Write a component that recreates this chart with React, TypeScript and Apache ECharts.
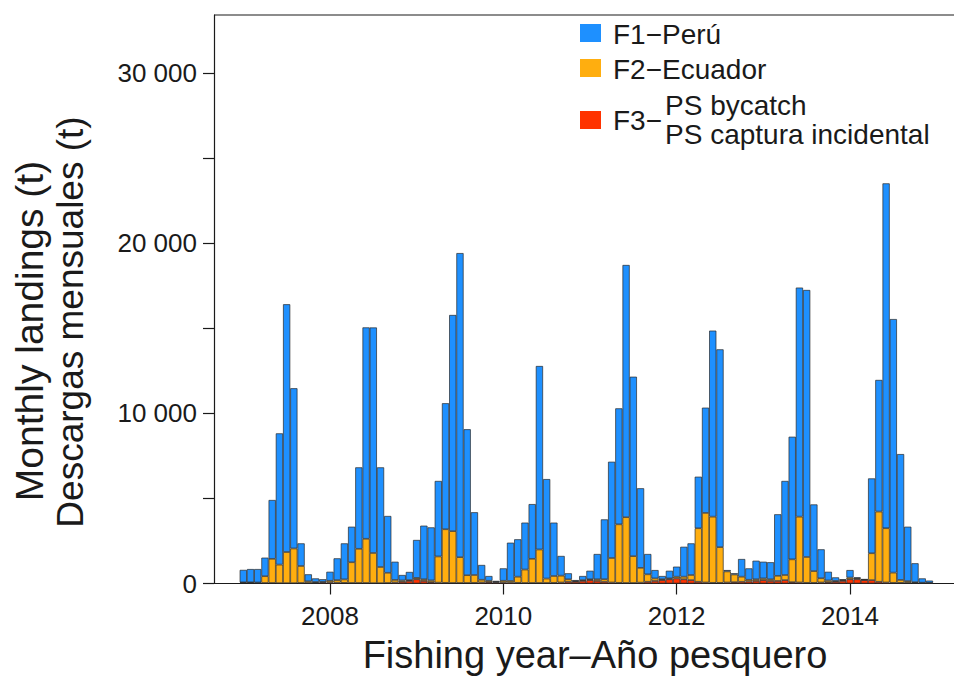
import React, { useEffect, useRef } from "react";
import * as echarts from "echarts";

// Fishing years (Jan..Dec of each year, one bar per month)
const years = [2007, 2008, 2009, 2010, 2011, 2012, 2013, 2014];

// F1 - Perú monthly landings (t)
const f1Peru = [
  730, 780, 790, 1090, 3460, 7720, 14570, 9420, 1330, 410, 210, 150,
  530, 1280, 2120, 2090, 4790, 12430, 13260, 5860, 3340, 1070, 320, 480,
  2230, 3150, 3120, 4440, 7410, 12710, 17880, 8580, 3690, 870, 280, 50,
  730, 2250, 2200, 2760, 3220, 10790, 5850, 3140, 1160, 350, 60, 240,
  500, 1485, 3520, 5660, 6820, 14830, 10550, 4680, 1195, 490, 190, 450,
  590, 1760, 1860, 3030, 6190, 10940, 11630, 80, 70, 1040, 670, 1090,
  980, 1000, 3620, 5530, 7210, 13470, 15700, 3920, 1700, 510, 210, 50,
  440, 50, 20, 4400, 7740, 20280, 14910, 7400, 3200, 1110, 250, 130,
];

// F2 - Ecuador monthly landings (t)
const f2Ecuador = [
  30, 30, 30, 400, 1420, 1090, 1830, 2040, 1000, 100, 50, 40,
  100, 150, 200, 1220, 2010, 2600, 1775, 950, 600, 150, 80, 50,
  80, 100, 100, 1540, 3150, 3050, 1520, 460, 460, 160, 80, 40,
  100, 100, 360, 790, 1420, 1970, 260, 400, 400, 150, 40, 50,
  50, 100, 150, 1440, 3440, 3870, 1580, 870, 440, 150, 50, 50,
  100, 150, 300, 3150, 4090, 3890, 2100, 650, 450, 300, 100, 100,
  100, 100, 300, 300, 1340, 3870, 1520, 690, 250, 100, 50, 50,
  100, 60, 30, 1580, 4130, 3190, 600, 170, 100, 50, 30, 20,
];

// F3 - PS bycatch monthly landings (t)
const f3Bycatch = [
  40, 40, 30, 30, 30, 20, 20, 20, 30, 30, 40, 60,
  60, 50, 40, 30, 30, 30, 20, 20, 30, 60, 100, 150,
  250, 150, 80, 50, 40, 30, 30, 30, 40, 60, 80, 60,
  60, 50, 40, 30, 30, 30, 30, 40, 60, 100, 100, 150,
  200, 150, 100, 60, 40, 30, 30, 50, 100, 150, 200, 250,
  300, 250, 200, 100, 60, 40, 40, 60, 80, 100, 120, 150,
  200, 150, 150, 200, 80, 60, 40, 40, 60, 80, 100, 150,
  250, 250, 200, 200, 100, 60, 40, 40, 40, 30, 20, 20,
];

const xTickValues = [2008, 2010, 2012, 2014];
const yTickValues = [0, 5000, 10000, 15000, 20000, 25000, 30000];
const yLabelValues = [0, 10000, 20000, 30000];

const seriesNames = ["F1\u2212Perú", "F2\u2212Ecuador", "F3\u2212PS bycatch"];
const COLORS = { f1: "#1E90FF", f2: "#FFAE0F", f3: "#FF3300" };
const FONT = '"Liberation Sans", Arial, Helvetica, sans-serif';
const INK = "#1a1a1a";

export default function App() {
  const ref = useRef<HTMLDivElement>(null);

  useEffect(() => {
    if (!ref.current) return;
    const chart = echarts.init(ref.current, null, { renderer: "svg" });
    const xs: number[] = [];
    years.forEach((y) => {
      for (let m = 0; m < 12; m++) xs.push(y + m / 12);
    });
    // value first so that the stack is applied on the landing values (y)
    const pair = (arr: number[]) => arr.map((v, i) => [v, xs[i]]);
    const fmtY = (v: number) =>
      v === 0 ? "0" : `${Math.floor(v / 1000)} ${String(v % 1000).padStart(3, "0")}`;

    const barCommon = {
      type: "bar",
      stack: "total",
      barWidth: 7.2,
      dimensions: ["landings", "month"],
      encode: { x: "month", y: "landings" },
      itemStyle: { borderColor: "#2a2a2a", borderWidth: 0.7 },
      emphasis: { disabled: true },
    };

    chart.setOption({
      animation: false,
      backgroundColor: "#ffffff",
      textStyle: { fontFamily: FONT },
      grid: { left: 214, top: 15, right: 0, bottom: 96.5, containLabel: false },
      xAxis: {
        type: "value",
        min: 2006.662,
        max: 2015.2,
        splitLine: { show: false },
        axisLine: { show: true, lineStyle: { color: INK, width: 1.2 } },
        axisTick: {
          show: true,
          length: 11,
          customValues: xTickValues,
          lineStyle: { color: INK, width: 1.2 },
        },
        axisLabel: {
          customValues: xTickValues,
          fontSize: 26,
          color: INK,
          fontFamily: FONT,
          margin: 32,
          verticalAlign: "middle",
          formatter: (v: number) => String(v),
        },
      },
      yAxis: {
        type: "value",
        min: 0,
        max: 33430,
        splitLine: { show: false },
        axisLine: { show: true, lineStyle: { color: INK, width: 1.2 } },
        axisTick: {
          show: true,
          length: 11,
          customValues: yTickValues,
          lineStyle: { color: INK, width: 1.2 },
        },
        axisLabel: {
          customValues: yLabelValues,
          fontSize: 26,
          color: INK,
          fontFamily: FONT,
          margin: 17,
          formatter: (v: number) => fmtY(v),
        },
      },
      series: [
        { ...barCommon, name: seriesNames[2], data: pair(f3Bycatch), itemStyle: { ...barCommon.itemStyle, color: COLORS.f3 } },
        { ...barCommon, name: seriesNames[1], data: pair(f2Ecuador), itemStyle: { ...barCommon.itemStyle, color: COLORS.f2 } },
        { ...barCommon, name: seriesNames[0], data: pair(f1Peru), itemStyle: { ...barCommon.itemStyle, color: COLORS.f1 } },
      ],
      graphic: [
        { type: "line", shape: { x1: 214, y1: 15, x2: 954, y2: 15 }, style: { stroke: INK, lineWidth: 1.2 } },
        // legend
        { type: "rect", shape: { x: 580, y: 24, width: 21, height: 18 }, style: { fill: COLORS.f1 } },
        { type: "text", x: 613, y: 34, style: { text: "F1\u2212Perú", font: `28px ${FONT}`, fill: INK, verticalAlign: "middle" } },
        { type: "rect", shape: { x: 580, y: 59, width: 21, height: 18 }, style: { fill: COLORS.f2 } },
        { type: "text", x: 613, y: 69, style: { text: "F2\u2212Ecuador", font: `28px ${FONT}`, fill: INK, verticalAlign: "middle" } },
        { type: "rect", shape: { x: 580, y: 111, width: 21, height: 18 }, style: { fill: COLORS.f3 } },
        { type: "text", x: 613, y: 120, style: { text: "F3\u2212", font: `28px ${FONT}`, fill: INK, verticalAlign: "middle" } },
        { type: "text", x: 665, y: 105, style: { text: "PS bycatch", font: `28px ${FONT}`, fill: INK, verticalAlign: "middle" } },
        { type: "text", x: 665, y: 134, style: { text: "PS captura incidental", font: `28px ${FONT}`, fill: INK, verticalAlign: "middle" } },
        // axis titles
        {
          type: "text", x: 595, y: 655,
          style: { text: "Fishing year\u2013Año pesquero", font: `38px ${FONT}`, fill: INK, align: "center", verticalAlign: "middle" },
        },
        {
          type: "text", x: 29, y: 331, rotation: Math.PI / 2,
          style: { text: "Monthly landings (t)", font: `39px ${FONT}`, fill: INK, align: "center", verticalAlign: "middle" },
        },
        {
          type: "text", x: 70, y: 322, rotation: Math.PI / 2,
          style: { text: "Descargas mensuales (t)", font: `37px ${FONT}`, fill: INK, align: "center", verticalAlign: "middle" },
        },
      ],
    });
    return () => chart.dispose();
  }, []);

  return (
    <div
      ref={ref}
      style={{ position: "fixed", left: 0, top: 0, width: 954, height: 680, background: "#fff" }}
    />
  );
}
